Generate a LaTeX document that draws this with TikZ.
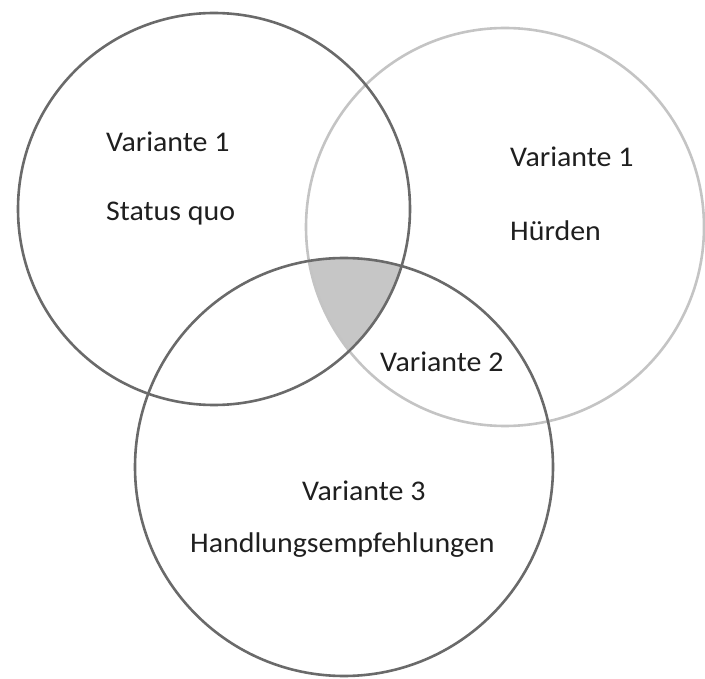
\documentclass[tikz,border=0pt]{standalone}
\usepackage{fontspec}
\setmainfont{Carlito}
\begin{document}
\begin{tikzpicture}[x=1pt,y=-1pt,
  ringdark/.style={circle,draw=ringgray,line width=2.6pt,inner sep=0pt},
  ringlight/.style={circle,draw=ringlight,line width=2.6pt,inner sep=0pt},
  lbl/.style={anchor=base west,inner sep=0pt,text=black!88,xscale=1.05,
    font=\fontsize{28.5}{34}\selectfont}]
\definecolor{ringgray}{HTML}{6A6A6A}
\definecolor{ringlight}{HTML}{C4C4C4}
\definecolor{coreshade}{HTML}{C6C6C6}
\useasboundingbox (0,0) rectangle (705,679);
% common core of the three sets
\begin{scope}
  \clip (214,209) circle[radius=196];
  \clip (505,227) circle[radius=199];
  \fill[coreshade] (344,467) circle[radius=209];
\end{scope}
% the three sets
\node[ringlight,minimum size=398pt] (huerden) at (505,227) {};
\node[ringdark,minimum size=392pt] (status) at (214,209) {};
\node[ringdark,minimum size=418pt] (handlung) at (344,467) {};
% labels
\node[lbl] (s1) at (106,152) {Variante 1};
\node[lbl] (s2) at (106,221) {Status quo};
\node[lbl] (h1) at (510,167) {Variante 1};
\node[lbl] (h2) at (510,241) {Hürden};
\node[lbl] (v2) at (380,372) {Variante 2};
\node[lbl] (v3) at (302,500) {Variante 3};
\node[lbl] (h3) at (190,552) {Handlungsempfehlungen};
\end{tikzpicture}
\end{document}
